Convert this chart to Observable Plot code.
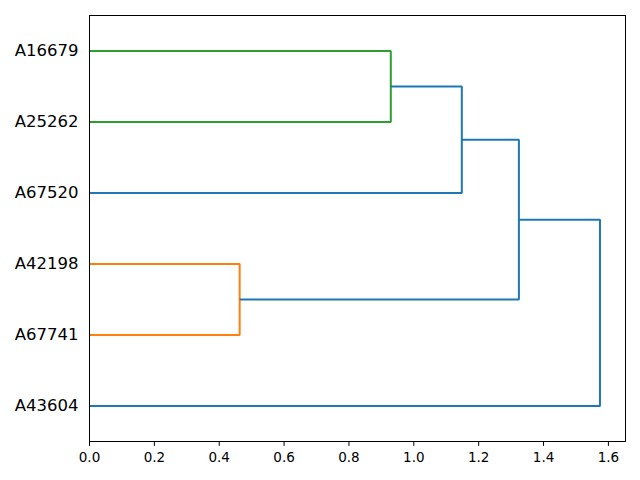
<!DOCTYPE html>
<html>
<head>
<meta charset="utf-8">
<script src="https://cdn.jsdelivr.net/npm/d3@7"></script>
<script src="https://cdn.jsdelivr.net/npm/@observablehq/plot@0.6"></script>
<style>
  html, body { margin: 0; padding: 0; background: #fff; }
  #chart svg { display: block; }
  #chart g[aria-label="x-axis tick label"] { font-size: 13.5px; }
  #chart g[aria-label="y-axis tick label"] { font-size: 16.5px; }
</style>
</head>
<body>
<div id="chart"></div>
<script>
// Leaf labels, bottom to top (scipy leaf positions 5, 15, 25, ...)
const leafLabels = ["A43604", "A67741", "A42198", "A67520", "A25262", "A16679"];
const leafPositions = [5, 15, 25, 35, 45, 55];
// Link coordinates as in scipy dendrogram (icoord = leaf axis, dcoord = distance)
const linkIcoord = [
  [15, 15, 25, 25],
  [45, 45, 55, 55],
  [35, 35, 50, 50],
  [20, 20, 42.5, 42.5],
  [5, 5, 31.25, 31.25]
];
const linkDcoord = [
  [0, 0.463, 0.463, 0],
  [0, 0.929, 0.929, 0],
  [0, 1.148, 1.148, 0.929],
  [0.463, 1.324, 1.324, 1.148],
  [0, 1.574, 1.574, 1.324]
];
const linkColors = ["#ff7f0e", "#2ca02c", "#1f77b4", "#1f77b4", "#1f77b4"];
const xTicks = [0, 0.2, 0.4, 0.6, 0.8, 1.0, 1.2, 1.4, 1.6];

const rows = [];
linkIcoord.forEach((ic, k) => {
  ic.forEach((yv, j) => rows.push({link: k, x: linkDcoord[k][j], y: yv, color: linkColors[k]}));
});
const maxD = d3.max(linkDcoord.flat());

const chart = Plot.plot({
  width: 640,
  height: 480,
  marginLeft: 89,
  marginRight: 15,
  marginTop: 15,
  marginBottom: 39,
  style: {fontFamily: "DejaVu Sans, sans-serif", color: "#000", background: "#fff"},
  x: {domain: [0, maxD * 1.05]},
  y: {domain: [0, leafPositions.length * 10]},
  marks: [
    Plot.line(rows, {x: "x", y: "y", z: "link", stroke: "color", strokeWidth: 2, strokeLinejoin: "miter", strokeLinecap: "butt"}),
    Plot.axisX({ticks: xTicks, tickFormat: d => d.toFixed(1), tickSize: 4.9, tickPadding: 6.5, label: null, stroke: "#000"}),
    Plot.axisY({ticks: leafPositions, tickFormat: d => leafLabels[leafPositions.indexOf(d)], tickSize: 0, tickPadding: 11, label: null}),
    Plot.frame({stroke: "#000", strokeWidth: 1})
  ]
});
document.getElementById("chart").appendChild(chart);
</script>
</body>
</html>
